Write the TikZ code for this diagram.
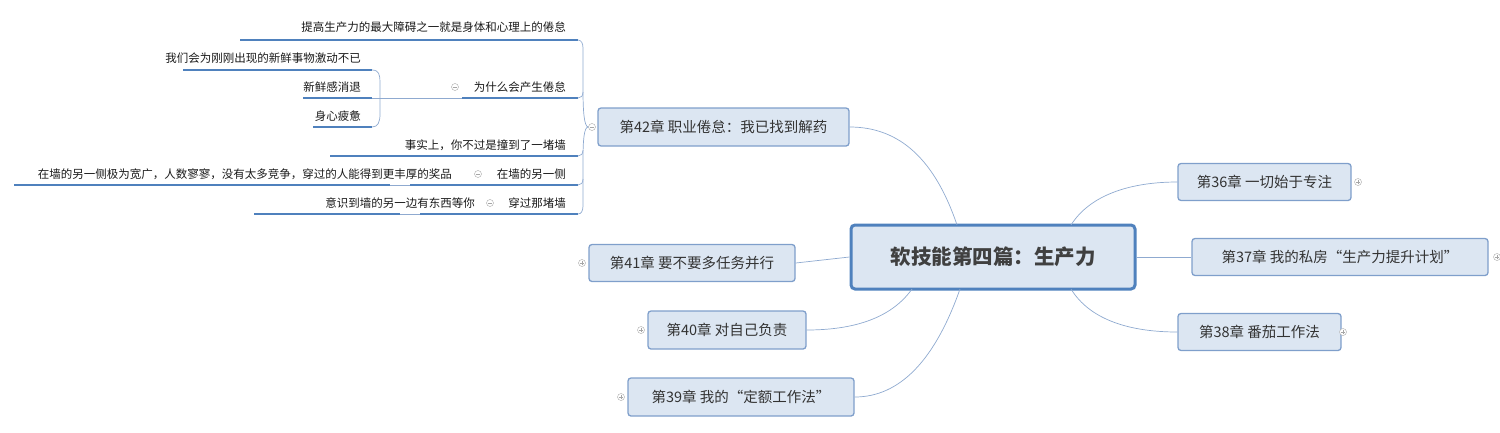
\documentclass[tikz,border=0pt]{standalone}
\usepackage{fontspec}
\setmainfont{Noto Sans CJK SC}
\begin{document}
\begin{tikzpicture}[x=1pt,y=-1pt,
  chap/.style={draw=boxline,fill=boxfill,rounded corners=3pt,line width=1.3pt,font=\fontsize{14.5}{16}\selectfont,text=black!80,inner xsep=0pt,inner ysep=0pt},
  cen/.style={draw=cline,fill=boxfill,rounded corners=4pt,line width=3pt,font=\bfseries\fontsize{20.5}{24}\selectfont,text=black!75,inner sep=0pt},
  conn/.style={draw=lnk,line width=0.7pt},
  leaf/.style={font=\fontsize{11.5}{13}\selectfont,text=black!90,anchor=east,inner sep=0pt},
  uline/.style={draw=cline,line width=1.6pt},
  tog/.style={circle,draw=gray!70,fill=white,inner sep=0pt,minimum size=7pt,line width=0.4pt}]
\definecolor{boxline}{HTML}{7F9FCB}
\definecolor{boxfill}{HTML}{DCE6F2}
\definecolor{cline}{HTML}{4F81BD}
\definecolor{lnk}{HTML}{8FAAD0}
\useasboundingbox (0,0) rectangle (1500,432);
% center
\node[cen,minimum width=284pt,minimum height=64pt] (c) at (993,257) {软技能第四篇：生产力};
% chapters
\node[chap,minimum width=251pt,minimum height=38pt] (n42) at (723.5,127) {第42章 职业倦怠：我已找到解药};
\node[chap,minimum width=173pt,minimum height=37pt] (n36) at (1264.5,182) {第36章 一切始于专注};
\node[chap,minimum width=296pt,minimum height=37pt] (n37) at (1340,257) {第37章 我的私房“生产力提升计划”};
\node[chap,minimum width=163pt,minimum height=37pt] (n38) at (1259.5,332) {第38章 番茄工作法};
\node[chap,minimum width=206pt,minimum height=37pt] (n41) at (692,263) {第41章 要不要多任务并行};
\node[chap,minimum width=158pt,minimum height=38pt] (n40) at (727,330) {第40章 对自己负责};
\node[chap,minimum width=226pt,minimum height=38pt] (n39) at (741,397) {第39章 我的“定额工作法”};
% toggles (plus)
\foreach \n/\x/\y in {p36/1358/182,p37/1497/257,p38/1343/332,p41/582/263,p40/641/330,p39/621/397}{
  \node[tog] (\n) at (\x,\y) {};
  \draw[gray!70,line width=0.4pt] (\x-2.2,\y) -- (\x+2.2,\y) (\x,\y-2.2) -- (\x,\y+2.2);}
% connectors
\coordinate (c42) at (957,225);
\coordinate (c36) at (1071,225);
\coordinate (c38) at (1071,289);
\coordinate (c40) at (912,289);
\coordinate (c39) at (960,289);
\draw[conn] (c42) .. controls (935,160) and (900,127) .. (n42.east);
\draw[conn] (c36) .. controls (1090,195) and (1130,182) .. (n36.west);
\draw[conn] (c.east) -- (n37.west);
\draw[conn] (c38) .. controls (1090,320) and (1130,332) .. (n38.west);
\draw[conn] (c.west) -- (n41.east);
\draw[conn] (c40) .. controls (890,320) and (850,330) .. (n40.east);
\draw[conn] (c39) .. controls (935,360) and (900,397) .. (n39.east);
% left tree of ch42
\node[tog] (m42) at (592,127) {};
\draw[gray!70,line width=0.4pt] (589.8,127) -- (594.2,127);
\node[leaf] (t1) at (566,27) {提高生产力的最大障碍之一就是身体和心理上的倦怠};
\node[leaf] (t2) at (566,87) {为什么会产生倦怠};
\node[leaf] (t3) at (566,145) {事实上，你不过是撞到了一堵墙};
\node[leaf] (t4) at (566,174) {在墙的另一侧};
\node[leaf] (t5) at (566,203) {穿过那堵墙};
\coordinate (u1) at (578,40); \coordinate (u2) at (578,98); \coordinate (u3) at (578,156);
\coordinate (u4) at (578,185); \coordinate (u5) at (578,214);
\draw[uline] (240,40) -- (u1);
\draw[uline] (462,98) -- (u2);
\draw[uline] (330,156) -- (u3);
\draw[uline] (410,185) -- (u4);
\draw[uline] (420,214) -- (u5);
\draw[conn] (m42.west) .. controls (584,127) and (583,110) .. (583,90) -- (583,48) .. controls (583,43) and (581,40) .. (u1);
\draw[conn] (583,92) .. controls (583,96) and (581,98) .. (u2);
\draw[conn] (m42.west) .. controls (584,127) and (583,140) .. (583,160) -- (583,206) .. controls (583,211) and (581,214) .. (u5);
\draw[conn] (583,150) .. controls (583,154) and (581,156) .. (u3);
\draw[conn] (583,179) .. controls (583,183) and (581,185) .. (u4);
% sub of 为什么
\node[tog] (m2) at (455,87) {};
\draw[gray!70,line width=0.4pt] (452.8,87) -- (457.2,87);
\node[leaf] (s1) at (361,58) {我们会为刚刚出现的新鲜事物激动不已};
\node[leaf] (s2) at (361,87) {新鲜感消退};
\node[leaf] (s3) at (361,116) {身心疲惫};
\draw[uline] (183,70) -- (372,70);
\draw[uline] (303,98) -- (372,98);
\draw[uline] (313,127) -- (372,127);
\draw[conn] (462,98) -- (372,98);
\draw[conn] (372,70) .. controls (379,70) and (380,75) .. (380,82) -- (380,114) .. controls (380,122) and (378,127) .. (372,127);
% sub of 在墙的另一侧
\node[tog] (m4) at (478,174) {};
\draw[gray!70,line width=0.4pt] (475.8,174) -- (480.2,174);
\node[leaf] (s4) at (452,174) {在墙的另一侧极为宽广，人数寥寥，没有太多竞争，穿过的人能得到更丰厚的奖品};
\draw[uline] (14,185) -- (390,185);
\draw[conn] (410,185) -- (390,185);
% sub of 穿过
\node[tog] (m5) at (490,203) {};
\draw[gray!70,line width=0.4pt] (487.8,203) -- (492.2,203);
\node[leaf] (s5) at (475,203) {意识到墙的另一边有东西等你};
\draw[uline] (254,214) -- (400,214);
\draw[conn] (420,214) -- (400,214);
\end{tikzpicture}
\end{document}
